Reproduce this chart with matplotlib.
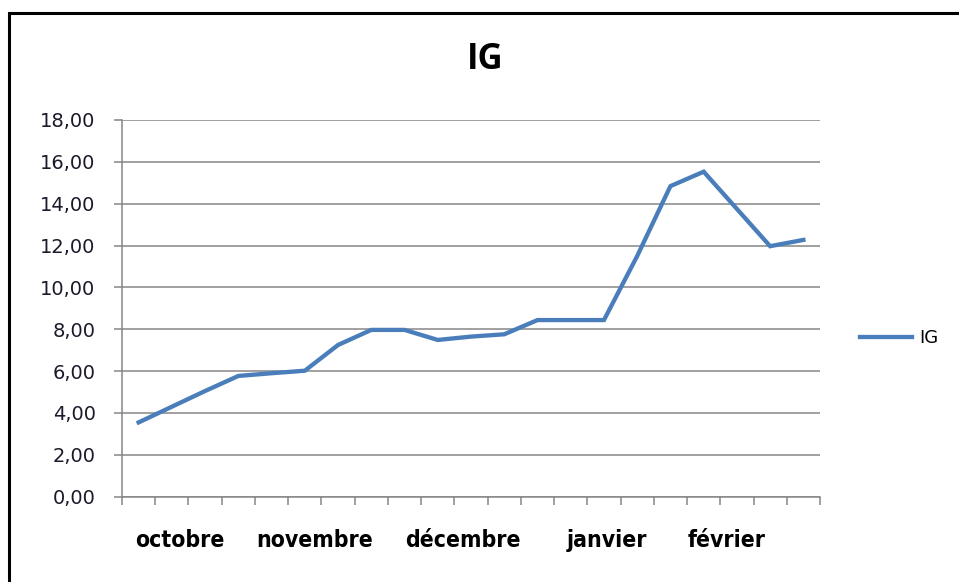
import matplotlib.pyplot as plt
from matplotlib.patches import Rectangle
from matplotlib.ticker import FuncFormatter, MultipleLocator
from matplotlib.font_manager import FontProperties, findfont

# IG values, one per period (21 periods from octobre to fevrier)
ig_values = [3.55, 4.30, 5.05, 5.77, 5.90, 6.02, 7.25, 7.97, 7.97, 7.49, 7.65,
             7.76, 8.44, 8.44, 8.44, 11.50, 14.84, 15.53, 13.75, 11.97, 12.27]

# month names and the period index they sit under
month_labels = ["octobre", "novembre", "décembre", "janvier", "février"]
month_pos = [1.25, 5.3, 9.75, 14.1, 17.7]

line_blue = "#4a7ebb"
grid_grey = "#868686"

# narrow bold face for the month names if one is around
month_font = FontProperties(family="DejaVu Sans", stretch="condensed", weight="bold")
if "Condensed" in findfont(month_font):
    month_font.set_size(16.5)
else:
    month_font = FontProperties(family="DejaVu Sans", weight="bold", size=15)

fig = plt.figure(figsize=(9.59, 5.82), dpi=100)
ax = fig.add_axes([122 / 959, 1 - 496.7 / 582, (820 - 122) / 959, (496.7 - 120) / 582])

x = range(len(ig_values))
ax.plot(x, ig_values, color=line_blue, lw=3.1, solid_joinstyle="miter", label="IG")

# category axis: ticks between periods
ax.set_xlim(-0.5, len(ig_values) - 0.5)
ax.set_xticks([i - 0.5 for i in range(len(ig_values) + 1)])
ax.set_xticklabels([])
ax.tick_params(axis="x", length=6, width=1.1, color=grid_grey, direction="out")

ax.set_ylim(0, 18)
ax.yaxis.set_major_locator(MultipleLocator(2))
ax.yaxis.set_major_formatter(FuncFormatter(lambda v, p: f"{v:.2f}".replace(".", ",")))
ax.tick_params(axis="y", length=6, width=1.1, color=grid_grey, direction="out",
               pad=13, labelsize=14, labelcolor="#1a1a2a")
ax.grid(axis="y", color=grid_grey, lw=1.1)
ax.set_axisbelow(True)

for side in ["top", "right"]:
    ax.spines[side].set_visible(False)
for side in ["left", "bottom"]:
    ax.spines[side].set_color(grid_grey)
    ax.spines[side].set_linewidth(1.1)

# month names under the axis
for lbl, pos in zip(month_labels, month_pos):
    ax.text(pos, -2.1, lbl, ha="center", va="center", fontproperties=month_font,
            color="black")

fig.text(485 / 959, 1 - 60 / 582, "IG", ha="center", va="center", fontsize=25,
         fontweight="bold", family=["Open Sans", "DejaVu Sans"])

ax.legend(loc="center left", bbox_to_anchor=(860 / 959, 1 - 338 / 582),
          bbox_transform=fig.transFigure, frameon=False, fontsize=13,
          handlelength=2.9, handletextpad=0.4, borderpad=0, borderaxespad=0)

# outer chart frame
fig.patches.append(Rectangle((9 / 959, -0.1), 1.2, 1 - 13 / 582 + 0.1,
                             transform=fig.transFigure, fill=False,
                             edgecolor="black", lw=2.2))

fig.savefig("out.png", dpi=100)
